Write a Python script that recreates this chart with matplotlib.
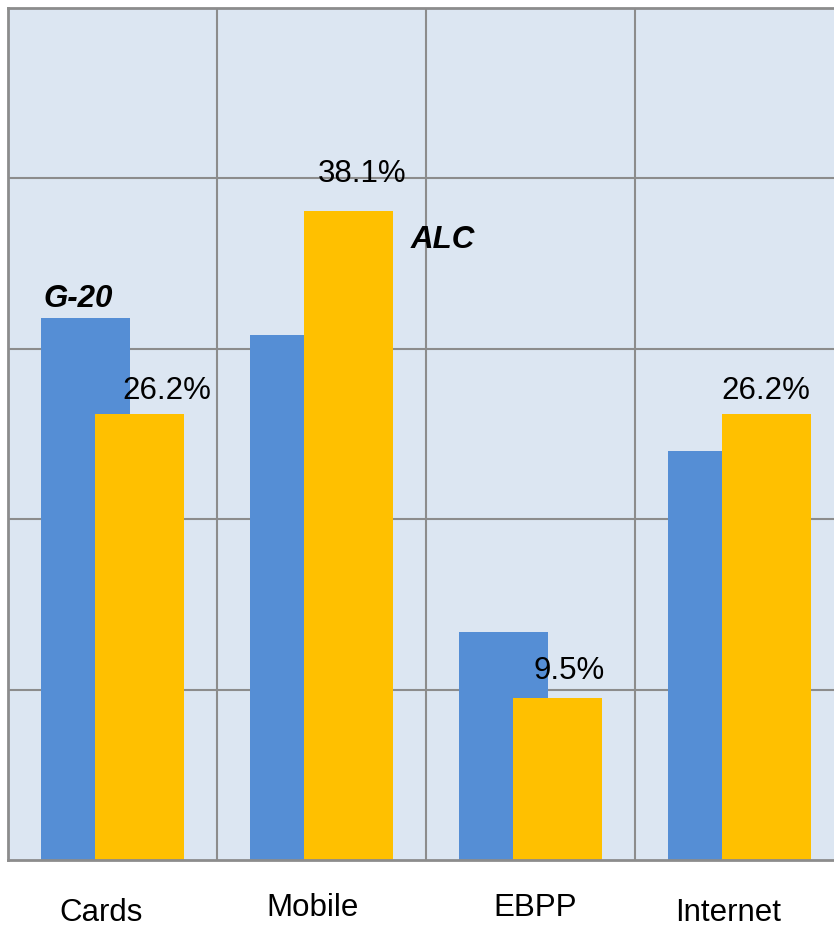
import matplotlib
matplotlib.use("Agg")
import matplotlib.pyplot as plt
import numpy as np

categories = ["Cards", "Mobile", "EBPP", "Internet"]
g20_values = [31.8, 30.8, 13.4, 24.0]
alc_values = [26.2, 38.1, 9.5, 26.2]
alc_labels = ["26.2%", "38.1%", "9.5%", "26.2%"]
series_names = ["G-20", "ALC"]

plt.rcParams['font.family'] = ['Liberation Sans', 'DejaVu Sans']

W, H = 834, 927
fig = plt.figure(figsize=(W / 100, H / 100), dpi=100)
ax = fig.add_axes([8 / W, 67 / H, 836 / W, 852 / H])

bg = "#DCE6F2"
blue = "#558ED5"
yellow = "#FFC000"
gridc = "#8C8C8C"

ax.set_facecolor(bg)
x = np.arange(len(categories))
off = 0.128
bw = 0.425
ax.bar(x - off, g20_values, width=bw, color=blue, zorder=3)
ax.bar(x + off, alc_values, width=bw, color=yellow, zorder=4)

ax.set_xlim(-0.5, len(categories) - 0.5)
ax.set_ylim(0, 50)
ax.set_yticks([10, 20, 30, 40])
ax.set_xticks(np.arange(len(categories) - 1) + 0.5)
ax.grid(True, color=gridc, linewidth=1.5, zorder=1)
ax.tick_params(length=0, labelleft=False, labelbottom=False)
for s in ["left", "top", "bottom"]:
    ax.spines[s].set_color(gridc)
    ax.spines[s].set_linewidth(2)
    ax.spines[s].set_zorder(5)
ax.spines["right"].set_visible(False)

fs = 22.5
# value labels (pixel offsets from top centre of ALC bars)
val_offsets = [(28, 23), (13.5, 37), (12, 27), (0, 23)]
for i, (v, lab) in enumerate(zip(alc_values, alc_labels)):
    dx, dy = val_offsets[i]
    ax.annotate(lab, (x[i] + off, v), xytext=(dx, dy), textcoords="offset pixels",
                ha="center", va="center", fontsize=fs, color="black", zorder=6)

# series labels
ax.annotate(series_names[0], (x[0] - off, g20_values[0]), xytext=(-8, 19),
            textcoords="offset pixels", ha="center", va="center", fontsize=fs,
            fontweight="bold", fontstyle="italic", zorder=6)
ax.annotate(series_names[1], (x[1] + off, alc_values[1]), xytext=(95, -29),
            textcoords="offset pixels", ha="center", va="center", fontsize=fs,
            fontweight="bold", fontstyle="italic", zorder=6)

# category labels
cat_offsets = [(-11.5, -53), (-8.5, -48), (4.5, -48), (-11.5, -53)]
for i, c in enumerate(categories):
    dx, dy = cat_offsets[i]
    ax.annotate(c, (x[i], 0), xytext=(dx, dy), textcoords="offset pixels",
                ha="center", va="center", fontsize=fs, annotation_clip=False)

fig.savefig("out.png", dpi=100)
